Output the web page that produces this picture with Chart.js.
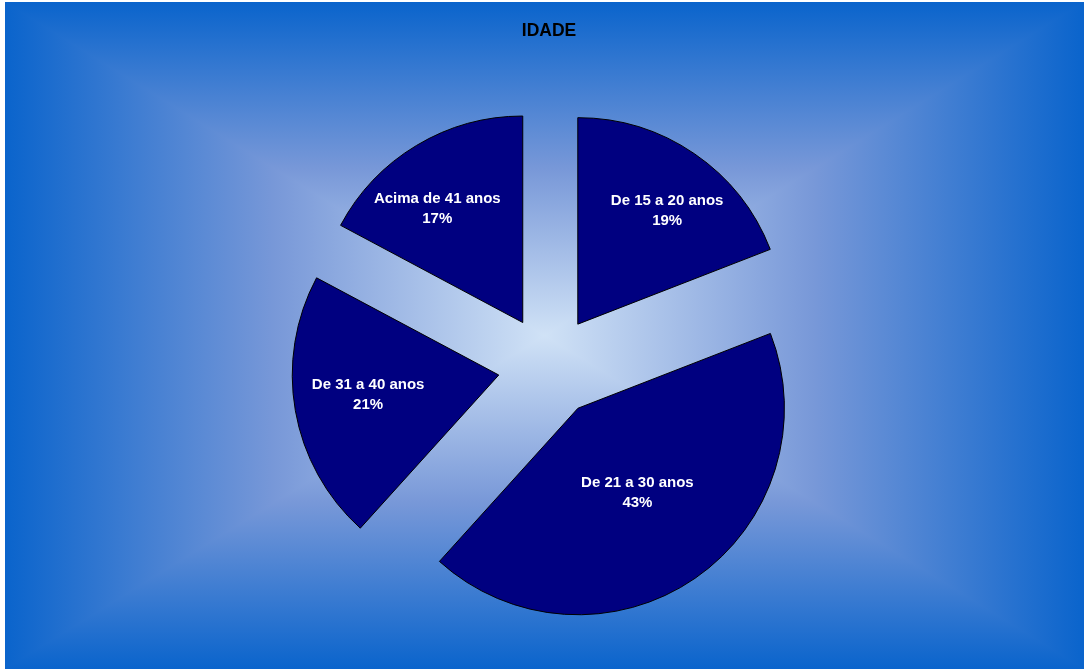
<!DOCTYPE html>
<html>
<head>
<meta charset="utf-8">
<script src="https://cdn.jsdelivr.net/npm/chart.js@4.4.1/dist/chart.umd.min.js"></script>
<style>
html,body{margin:0;padding:0;background:#fff;overflow:hidden}
#wrap{width:1084px;height:669px;position:relative}
</style>
</head>
<body>
<div id="wrap"><canvas id="c"></canvas></div>
<script>
// ---- data ----
const chartTitle = 'IDADE';
const categories = ['De 15 a 20 anos', 'De 21 a 30 anos', 'De 31 a 40 anos', 'Acima de 41 anos'];
// shares (%); labels round to 19 / 43 / 21 / 17
const shares = [19.1, 42.6, 21.1, 17.2];

// ---- styling / layout settings ----
const FONT = '"Liberation Sans", Arial, Helvetica, sans-serif';
const sliceColor = '#000080';

// background: rectangular "from centre" gradient
const bgPlugin = {
  id: 'bgGradient',
  beforeDraw(chart, args, opts) {
    const ctx = chart.ctx;
    const x0 = opts.left, y0 = opts.top, x1 = chart.width, y1 = chart.height;
    const cx = (x0 + x1) / 2, cy = (y0 + y1) / 2;
    const st = opts.stops;
    ctx.save();
    ctx.fillStyle = '#ffffff';
    ctx.fillRect(0, 0, chart.width, chart.height);
    // base: vertical mirrored gradient (top & bottom parts)
    const gv = ctx.createLinearGradient(0, y0, 0, y1);
    st.forEach(s => gv.addColorStop(s[0] / 2, s[1]));
    st.slice().reverse().forEach(s => gv.addColorStop(1 - s[0] / 2, s[1]));
    ctx.fillStyle = gv;
    ctx.fillRect(x0, y0, x1 - x0, y1 - y0);
    // left & right triangles
    const tri = (pts, gx0, gx1) => {
      const g = ctx.createLinearGradient(gx0, 0, gx1, 0);
      st.forEach(s => g.addColorStop(s[0], s[1]));
      ctx.fillStyle = g;
      ctx.beginPath();
      ctx.moveTo(pts[0][0], pts[0][1]);
      ctx.lineTo(pts[1][0], pts[1][1]);
      ctx.lineTo(pts[2][0], pts[2][1]);
      ctx.closePath();
      ctx.fill();
    };
    tri([[x0, y0], [x0, y1], [cx, cy]], x0, cx);
    tri([[x1, y0], [x1, y1], [cx, cy]], x1, cx);
    ctx.restore();
  }
};

// exploded slices: move every arc outward along its middle angle
const explodePlugin = {
  id: 'explode',
  afterDatasetsUpdate(chart, args, opts) {
    const meta = chart.getDatasetMeta(0);
    meta.data.forEach(arc => {
      const mid = (arc.startAngle + arc.endAngle) / 2;
      arc.x += Math.cos(mid) * opts.distance;
      arc.y += Math.sin(mid) * opts.distance;
    });
  }
};

// in-slice labels: category + percentage
const labelPlugin = {
  id: 'sliceLabels',
  afterDatasetsDraw(chart, args, opts) {
    const ctx = chart.ctx;
    const meta = chart.getDatasetMeta(0);
    const data = chart.data.datasets[0].data;
    const total = data.reduce((a, b) => a + b, 0);
    ctx.save();
    ctx.font = 'bold 15px ' + FONT;
    ctx.fillStyle = '#ffffff';
    ctx.textAlign = 'center';
    ctx.textBaseline = 'middle';
    meta.data.forEach((arc, i) => {
      const ang = (arc.startAngle + arc.endAngle) / 2 + opts.angleShift[i] * Math.PI / 180;
      const r = arc.outerRadius * opts.radiusFrac[i];
      const x = arc.x + Math.cos(ang) * r;
      const y = arc.y + Math.sin(ang) * r;
      ctx.fillText(chart.data.labels[i], x, y - opts.lineHeight / 2);
      ctx.fillText(Math.round(data[i] / total * 100) + '%', x, y + opts.lineHeight / 2);
    });
    ctx.restore();
  }
};

new Chart(document.getElementById('c'), {
  type: 'pie',
  data: {
    labels: categories,
    datasets: [{
      data: shares,
      backgroundColor: sliceColor,
      borderColor: '#000000',
      borderWidth: 1,
      radius: 206.5,
      clip: false
    }]
  },
  options: {
    responsive: true,
    maintainAspectRatio: false,
    animation: false,
    events: [],
    layout: { padding: { left: 14, right: 0, top: 0, bottom: 0 } },
    plugins: {
      legend: { display: false },
      tooltip: { enabled: false },
      title: {
        display: true,
        text: chartTitle,
        color: '#000000',
        font: { family: FONT, size: 17.5, weight: 'bold', lineHeight: 1.2 },
        padding: { top: 21, bottom: 21.5 }
      },
      bgGradient: {
        left: 5, top: 2,
        stops: [[0, '#0a64cc'], [0.5, '#7898d8'], [1, '#d0e2f6']]
      },
      explode: { distance: 51 },
      sliceLabels: {
        lineHeight: 20,
        radiusFrac: [0.70, 0.50, 0.64, 0.69],
        angleShift: [3.8, -0.6, 1.2, -5.9]
      }
    }
  },
  plugins: [bgPlugin, explodePlugin, labelPlugin]
});
</script>
</body>
</html>
